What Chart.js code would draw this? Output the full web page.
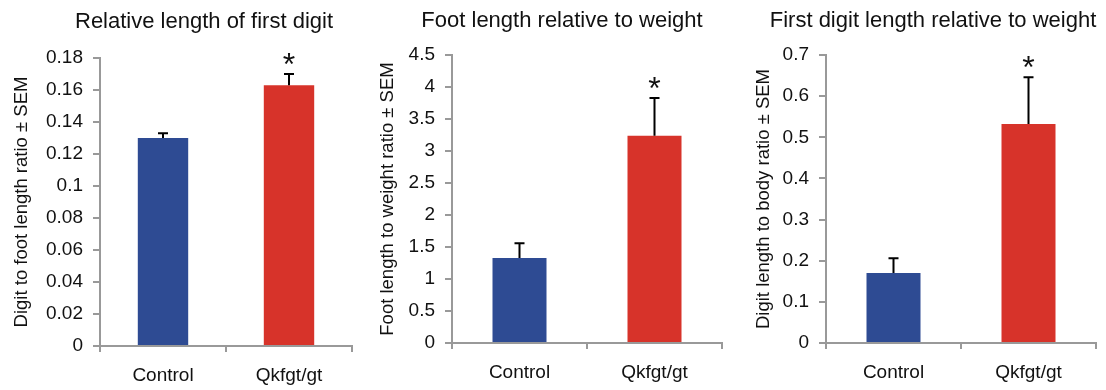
<!DOCTYPE html>
<html>
<head>
<meta charset="utf-8">
<script src="https://cdn.jsdelivr.net/npm/chart.js@4.4.0/dist/chart.umd.min.js"></script>
<style>
  body { margin: 0; background: #fff; width: 1106px; height: 390px; position: relative; overflow: hidden; }
  canvas { position: absolute; top: 0; }
</style>
</head>
<body>
<canvas id="c1" width="368" height="390" style="left:0px"></canvas>
<canvas id="c2" width="368" height="390" style="left:368px"></canvas>
<canvas id="c3" width="370" height="390" style="left:736px"></canvas>
<script>
// data
const categories = ['Control', 'Qkfgt/gt'];
const significance = ['', '*'];

const digitFootRatio = [0.130, 0.163];
const digitFootSem = [0.003, 0.007];

const footWeightRatio = [1.33, 3.24];
const footWeightSem = [0.23, 0.59];

const digitBodyRatio = [0.170, 0.532];
const digitBodySem = [0.036, 0.114];

const yMax = [0.18, 4.5, 0.7];
const yStep = [0.02, 0.5, 0.1];

const FONT = '"Liberation Sans", Arial, sans-serif';
const axisGray = '#999999';
const barColors = ['#2e4b93', '#d7332a'];

// error bars, asterisks and panel title
const extras = {
    id: 'extras',
    afterDatasetsDraw(chart, args, opts) {
        const ctx = chart.ctx;
        const y = chart.scales.y;
        const meta = chart.getDatasetMeta(0);
        ctx.save();
        ctx.strokeStyle = '#000';
        ctx.fillStyle = '#111';
        ctx.lineWidth = 2;
        meta.data.forEach((bar, i) => {
            const top = y.getPixelForValue(opts.values[i] + opts.sem[i]);
            ctx.beginPath();
            ctx.moveTo(bar.x, bar.y);
            ctx.lineTo(bar.x, top);
            ctx.moveTo(bar.x - 5, top);
            ctx.lineTo(bar.x + 5, top);
            ctx.stroke();
            if (significance[i]) {
                ctx.font = '32px ' + FONT;
                ctx.textAlign = 'center';
                ctx.textBaseline = 'alphabetic';
                ctx.fillText(significance[i], bar.x, top + 1);
            }
        });
        ctx.font = '22px ' + FONT;
        ctx.textAlign = 'center';
        ctx.textBaseline = 'middle';
        ctx.fillText(opts.title, opts.titleX, opts.titleY);
        ctx.restore();
    }
};

function makePanel(id, p) {
    return new Chart(document.getElementById(id), {
        type: 'bar',
        data: {
            labels: categories,
            datasets: [{
                data: p.values,
                backgroundColor: barColors,
                barPercentage: 0.4,
                categoryPercentage: 1
            }]
        },
        plugins: [extras],
        options: {
            responsive: false,
            animation: false,
            devicePixelRatio: 1,
            layout: { padding: { left: 0, top: p.top, right: p.right, bottom: 0 } },
            plugins: {
                legend: { display: false },
                tooltip: { enabled: false },
                extras: { values: p.values, sem: p.sem, title: p.title, titleX: p.titleX, titleY: p.titleY }
            },
            scales: {
                x: {
                    grid: { drawOnChartArea: false, color: axisGray, lineWidth: 2, tickLength: 6 },
                    border: { color: axisGray, width: 2 },
                    ticks: { color: '#111', font: { family: FONT, size: 19 }, padding: 12 },
                    afterFit: s => { s.height = 390 - p.bottom; }
                },
                y: {
                    min: 0,
                    max: p.max,
                    grid: { drawOnChartArea: false, color: axisGray, lineWidth: 2, tickLength: 7 },
                    border: { color: axisGray, width: 2 },
                    ticks: {
                        stepSize: p.step,
                        color: '#111',
                        font: { family: FONT, size: 19 },
                        padding: 10,
                        callback: v => String(Number(v.toFixed(3)))
                    },
                    title: {
                        display: true,
                        text: p.yTitle,
                        color: '#111',
                        font: { family: FONT, size: 18.5 },
                        padding: { top: p.yTitlePad, bottom: 0 }
                    },
                    afterFit: s => { s.width = p.left; }
                }
            }
        }
    });
}

makePanel('c1', {
    values: digitFootRatio, sem: digitFootSem, max: yMax[0], step: yStep[0],
    title: 'Relative length of first digit', titleX: 204, titleY: 22,
    yTitle: 'Digit to foot length ratio \u00b1 SEM', yTitlePad: 11,
    left: 100, right: 16, top: 58, bottom: 346
});
makePanel('c2', {
    values: footWeightRatio, sem: footWeightSem, max: yMax[1], step: yStep[1],
    title: 'Foot length relative to weight', titleX: 194, titleY: 21,
    yTitle: 'Foot length to weight ratio \u00b1 SEM', yTitlePad: 9,
    left: 84, right: 14, top: 55, bottom: 343
});
makePanel('c3', {
    values: digitBodyRatio, sem: digitBodySem, max: yMax[2], step: yStep[2],
    title: 'First digit length relative to weight', titleX: 197, titleY: 21,
    yTitle: 'Digit length to body ratio \u00b1 SEM', yTitlePad: 17,
    left: 90, right: 10, top: 55, bottom: 343
});
</script>
</body>
</html>
